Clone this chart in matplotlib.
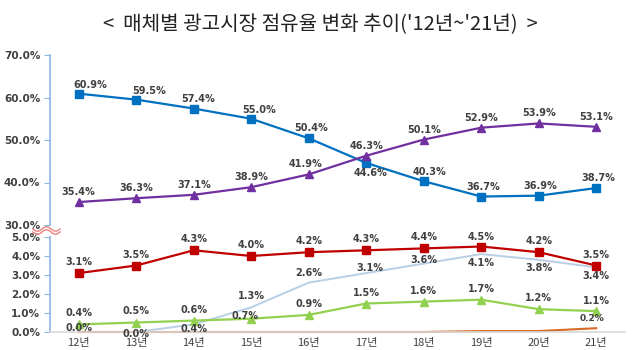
import matplotlib
matplotlib.use("Agg")
import matplotlib.pyplot as plt
import numpy as np

years = ['12년', '13년', '14년', '15년', '16년', '17년', '18년', '19년', '20년', '21년']
blue = [60.9, 59.5, 57.4, 55.0, 50.4, 44.6, 40.3, 36.7, 36.9, 38.7]
purple = [35.4, 36.3, 37.1, 38.9, 41.9, 46.3, 50.1, 52.9, 53.9, 53.1]
red = [3.1, 3.5, 4.3, 4.0, 4.2, 4.3, 4.4, 4.5, 4.2, 3.5]
skyblue = [np.nan, 0.0, 0.4, 1.3, 2.6, 3.1, 3.6, 4.1, 3.8, 3.4]
green = [0.4, 0.5, 0.6, 0.7, 0.9, 1.5, 1.6, 1.7, 1.2, 1.1]
orange = [0.0, 0.0, 0.0, 0.0, 0.0, 0.0, 0.0, 0.05, 0.05, 0.2]

x = np.arange(len(years))
lab_color = '#404040'
spine_color = '#8DB4E2'

fig = plt.figure(figsize=(6.4, 3.5), dpi=100)
fig.text(0.5, 1 - 25 / 350, "<  매체별 광고시장 점유율 변화 추이('12년~'21년)  >",
         ha='center', va='center', fontsize=14.5, color='#222222',
         family=['Noto Sans CJK KR', 'DejaVu Sans'])

ax_top = fig.add_axes([50 / 640, 1 - 225 / 350, 575 / 640, 170 / 350])
ax_bot = fig.add_axes([50 / 640, 1 - 332 / 350, 575 / 640, 95 / 350])


def style(ax, ticks, bottom):
    for s in ['top', 'right']:
        ax.spines[s].set_visible(False)
    ax.spines['left'].set_color(spine_color)
    ax.spines['left'].set_linewidth(1.2)
    if bottom:
        ax.spines['bottom'].set_color('#D9D9D9')
        ax.spines['bottom'].set_linewidth(1.2)
    else:
        ax.spines['bottom'].set_visible(False)
    ax.set_xlim(-0.5, 9.5)
    ax.set_yticks(ticks)
    ax.set_yticklabels(['%.1f%%' % t for t in ticks])
    ax.tick_params(axis='y', colors=spine_color, length=4, labelsize=7.5, labelcolor=lab_color, pad=3)
    for t in ax.get_yticklabels():
        t.set_fontweight('bold')
    ax.patch.set_alpha(0)


style(ax_top, [30, 40, 50, 60, 70], False)
ax_top.set_ylim(30, 70)
ax_top.set_xticks([])
style(ax_bot, [0, 1, 2, 3, 4, 5], True)
ax_bot.set_ylim(0, 5)
ax_bot.set_xticks(x)
ax_bot.set_xticklabels(years, family=['Noto Sans CJK KR', 'DejaVu Sans'])
ax_bot.tick_params(axis='x', length=0, labelsize=8, labelcolor=lab_color, pad=4.5)

ax_top.plot(x, blue, color='#0070C0', lw=1.6, marker='s', ms=5.5, clip_on=False, zorder=3)
ax_top.plot(x, purple, color='#7030A0', lw=1.6, marker='^', ms=5.5, clip_on=False, zorder=3)
ax_bot.plot(x, orange, color='#D86A25', lw=1.5, clip_on=False, zorder=2)
ax_bot.plot(x, skyblue, color='#B8CFE6', lw=1.4, clip_on=False, zorder=2)
ax_bot.plot(x, green, color='#92D050', lw=1.6, marker='^', ms=5.5, clip_on=False, zorder=3)
ax_bot.plot(x, red, color='#C00000', lw=1.6, marker='s', ms=5.5, clip_on=False, zorder=3)

# label offsets in pixels (dx, dy), dy positive = up
blue_off = [(12, 9), (13, 9), (4, 10), (8, 9), (2, 10), (4, -10), (6, 9), (2, 10), (2, 10), (2, 10)]
purple_off = [(0, 10), (0, 10), (0, 10), (0, 10), (-3, 10), (0, 10), (0, 10), (0, 10), (0, 10), (0, 10)]
red_off = [(0, 11), (0, 11), (0, 11), (0, 11), (0, 11), (0, 11), (0, 11), (0, 10), (0, 11), (0, 10)]
sky_off = [None, (0, -2), (0, -5), (0, 11), (0, 10), (4, 5), (0, 4), (0, -9), (0, -8), (0, -9)]
green_off = [(0, 11), (0, 11), (0, 11), (-6, 3), (0, 11), (0, 11), (0, 11), (0, 11), (0, 11), (0, 10)]


def labels(ax, vals, offs):
    for xi, v, o in zip(x, vals, offs):
        if o is None or np.isnan(v):
            continue
        ax.annotate('%.1f%%' % v, (xi, v), xytext=(o[0] * 0.72, o[1] * 0.72),
                    textcoords='offset points', ha='center', va='center',
                    fontsize=7, fontweight='bold', color=lab_color, annotation_clip=False, zorder=5)


labels(ax_top, blue, blue_off)
labels(ax_top, purple, purple_off)
labels(ax_bot, red, red_off)
labels(ax_bot, skyblue, sky_off)
labels(ax_bot, green, green_off)
ax_bot.annotate('%.1f%%' % orange[0], (0, orange[0]), xytext=(0, 3), textcoords='offset points',
                ha='center', va='center', fontsize=7, fontweight='bold', color=lab_color, zorder=5)
ax_bot.annotate('%.1f%%' % orange[-1], (9, orange[-1]), xytext=(-3, 7), textcoords='offset points',
                ha='center', va='center', fontsize=6.5, fontweight='bold', color=lab_color, zorder=5)

# break marks (wavy)
t = np.linspace(0, 1, 60)
wx = (33 + 27 * t) / 640
for off in (0, 3):
    wy = 1 - (229 + off + 2.2 * np.sin(t * 2 * np.pi * 1.5)) / 350
    fig.add_artist(plt.Line2D(wx, wy, color='#F08080', lw=1.0, transform=fig.transFigure))

fig.savefig('out.png', dpi=100)
